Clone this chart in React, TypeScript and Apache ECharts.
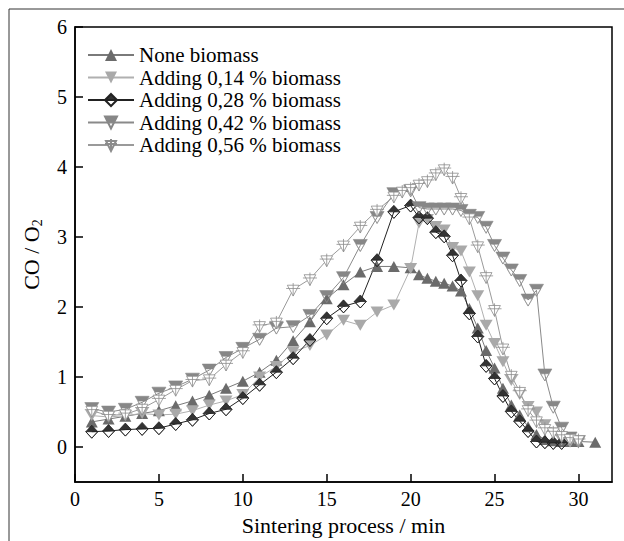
import React, { useEffect, useRef } from 'react';
import * as echarts from 'echarts';

// ---- data (time in min, CO/O2 ratio) ----
const noneT = [1,2,3,4,5,6,7,8,9,10,11,12,13,14,15,16,17,18,19,20,20.5,21,21.5,22,22.5,23,23.5,24,24.5,25,25.5,26,26.5,27,27.5,28,28.5,29,29.5,30,31];
const noneV = [0.36,0.40,0.44,0.48,0.52,0.59,0.66,0.74,0.84,0.94,1.07,1.24,1.52,1.79,2.12,2.32,2.50,2.58,2.58,2.56,2.46,2.41,2.37,2.34,2.30,2.23,1.98,1.70,1.38,1.13,0.84,0.60,0.46,0.29,0.18,0.11,0.09,0.08,0.08,0.08,0.07];

const b14T = [1,2,3,4,5,6,7,8,9,10,11,12,13,14,15,16,17,18,19,20,20.5,21,21.5,22,22.5,23,23.5,24,24.5,25,25.5,26,26.5,27,27.5,28,28.5,29,29.5,30];
const b14V = [0.45,0.43,0.45,0.48,0.46,0.47,0.52,0.60,0.66,0.75,1.00,1.15,1.36,1.45,1.60,1.81,1.74,1.93,2.03,2.55,3.20,3.25,3.15,3.10,2.85,2.80,2.50,2.16,1.74,1.48,1.22,0.95,0.75,0.58,0.50,0.32,0.20,0.10,0.07,0.06];

const b28T = [1,2,3,4,5,6,7,8,9,10,11,12,13,14,15,16,17,18,19,20,20.5,21,21.5,22,22.5,23,23.5,24,24.5,25,25.5,26,26.5,27,27.5,28,28.5,29];
const b28V = [0.22,0.23,0.25,0.26,0.27,0.33,0.39,0.48,0.54,0.70,0.89,1.07,1.27,1.53,1.84,2.01,2.08,2.67,3.36,3.45,3.28,3.27,3.07,3.01,2.74,2.38,1.91,1.58,1.16,0.98,0.73,0.51,0.37,0.23,0.08,0.07,0.06,0.06];

const b42T = [1,2,3,4,5,6,7,8,9,10,11,12,13,14,15,16,17,18,19,20,20.5,21,21.5,22,22.5,23,23.5,24,24.5,25,25.5,26,26.5,27,27.5,28,28.5,29,29.5,30];
const b42V = [0.55,0.50,0.54,0.64,0.77,0.86,0.97,1.10,1.28,1.41,1.54,1.70,1.72,1.88,2.15,2.42,2.88,3.28,3.62,3.66,3.42,3.40,3.40,3.40,3.40,3.38,3.31,3.28,3.14,2.88,2.70,2.53,2.38,2.10,2.24,1.03,0.57,0.27,0.13,0.08];

const b56T = [1,2,3,4,5,6,7,8,9,10,11,12,13,14,15,16,17,18,19,19.5,20,20.5,21,21.5,22,22.5,23,23.5,24,24.5,25,25.5,26,26.5,27,27.5,28,28.5,29,29.5,30];
const b56V = [0.52,0.45,0.47,0.55,0.68,0.82,0.95,0.97,1.18,1.36,1.73,1.78,2.25,2.40,2.67,2.88,3.15,3.38,3.58,3.65,3.69,3.75,3.80,3.90,3.97,3.85,3.56,3.27,2.87,2.43,1.96,1.41,1.02,0.79,0.53,0.37,0.26,0.21,0.16,0.12,0.10];

const seriesNames = ['None biomass', 'Adding 0,14 % biomass', 'Adding 0,28 % biomass', 'Adding 0,42 % biomass', 'Adding 0,56 % biomass'];
const xTicks = [0, 5, 10, 15, 20, 25, 30];
const yTicks = [0, 1, 2, 3, 4, 5, 6];

const FONT = "'Liberation Serif', 'Times New Roman', Times, serif";

const TRI_DOWN = 'path://M0,0L2,0L1,2Z';
const TRI_DOWN_HALF = 'path://M0,0L2,0L1,2Z M0.4,0.8L1,2L1.6,0.8Z';
const DIAMOND = 'path://M1,0L2,1L1,2L0,1Z';
const DIAMOND_HALF = 'path://M1,0L2,1L1,2L0,1Z M0,1L1,2L2,1Z';
const TRI_CROSS = 'path://M0.2,0.4L2.2,0.4L1.2,2.4Z M1.2,0L1.2,2.4 M0,1L2.4,1';

const pair = (t: number[], v: number[]) => t.map((x, i) => [x, v[i]]);

export default function App() {
  const ref = useRef<HTMLDivElement>(null);
  useEffect(() => {
    if (!ref.current) return;
    const chart = echarts.init(ref.current, undefined, { renderer: 'svg' });
    const d28 = pair(b28T, b28V);
    const d42 = pair(b42T, b42V);
    chart.setOption({
      animation: false,
      backgroundColor: '#fff',
      textStyle: { fontFamily: FONT },
      graphic: [
        {
          type: 'rect',
          shape: { x: 9, y: 9, width: 700, height: 600 },
          style: { fill: 'none', stroke: '#333', lineWidth: 1 },
          silent: true,
          z: -10,
        },
      ],
      grid: {
        left: 75,
        right: 12,
        top: 27,
        bottom: 57,
        show: true,
        borderColor: '#000',
        borderWidth: 1.5,
        backgroundColor: 'transparent',
      },
      legend: {
        orient: 'vertical',
        left: 87,
        top: 44,
        padding: 0,
        itemWidth: 46,
        itemHeight: 15,
        itemGap: 0.5,
        data: seriesNames,
        textStyle: { fontFamily: FONT, fontSize: 21, color: '#000', lineHeight: 22 },
      },
      xAxis: {
        type: 'value',
        min: 0,
        max: 32,
        name: 'Sintering process / min',
        nameLocation: 'middle',
        nameGap: 25,
        nameTextStyle: { fontFamily: FONT, fontSize: 22, color: '#000' },
        axisLine: { show: true, onZero: false, lineStyle: { color: '#000', width: 1.5 } },
        axisTick: { show: true, inside: true, length: 8, customValues: xTicks, lineStyle: { color: '#000', width: 1.5 } },
        axisLabel: { customValues: xTicks, fontFamily: FONT, fontSize: 20, color: '#000', margin: 7 },
        splitLine: { show: false },
      },
      yAxis: {
        type: 'value',
        min: -0.5,
        max: 6,
        name: 'CO / O{s|2}',
        nameLocation: 'middle',
        nameGap: 31,
        nameRotate: 90,
        nameTextStyle: {
          fontFamily: FONT,
          fontSize: 22,
          color: '#000',
          rich: { s: { fontFamily: FONT, fontSize: 14, color: '#000', padding: [12, 0, 0, 0] } },
        },
        axisLine: { show: true, onZero: false, lineStyle: { color: '#000', width: 1.5 } },
        axisTick: { show: true, inside: true, length: 8, customValues: yTicks, lineStyle: { color: '#000', width: 1.5 } },
        axisLabel: { customValues: yTicks, fontFamily: FONT, fontSize: 20, color: '#000', margin: 8 },
        splitLine: { show: false },
      },
      series: [
        {
          name: seriesNames[0],
          type: 'line',
          data: pair(noneT, noneV),
          symbol: 'triangle',
          symbolSize: [12, 11],
          lineStyle: { color: '#7a7a7a', width: 1 },
          itemStyle: { color: '#6b6b6b', borderWidth: 0 },
        },
        {
          name: seriesNames[1],
          type: 'line',
          data: pair(b14T, b14V),
          symbol: TRI_DOWN,
          symbolSize: [13, 11],
          lineStyle: { color: '#b0b0b0', width: 1 },
          itemStyle: { color: '#a9a9a9', borderWidth: 0 },
        },
        {
          name: '_u28',
          type: 'scatter',
          data: d28,
          symbol: DIAMOND,
          symbolSize: [12, 13],
          silent: true,
          itemStyle: { color: '#fff', borderWidth: 0 },
        },
        {
          name: seriesNames[2],
          type: 'line',
          data: d28,
          symbol: DIAMOND_HALF,
          symbolSize: [12, 13],
          lineStyle: { color: '#222', width: 1 },
          itemStyle: { color: '#333', borderColor: '#222', borderWidth: 0.8 },
        },
        {
          name: '_u42',
          type: 'scatter',
          data: d42,
          symbol: TRI_DOWN,
          symbolSize: [14, 12],
          silent: true,
          itemStyle: { color: '#fff', borderWidth: 0 },
        },
        {
          name: seriesNames[3],
          type: 'line',
          data: d42,
          symbol: TRI_DOWN_HALF,
          symbolSize: [14, 12],
          lineStyle: { color: '#8a8a8a', width: 1 },
          itemStyle: { color: '#878787', borderColor: '#878787', borderWidth: 0.6 },
        },
        {
          name: seriesNames[4],
          type: 'line',
          data: pair(b56T, b56V),
          symbol: TRI_CROSS,
          symbolSize: [14, 13],
          lineStyle: { color: '#9a9a9a', width: 1 },
          itemStyle: { color: '#fff', borderColor: '#8c8c8c', borderWidth: 0.8 },
        },
      ],
    });
    return () => chart.dispose();
  }, []);
  return <div ref={ref} style={{ position: 'fixed', left: 0, top: 0, width: 624, height: 541 }} />;
}
